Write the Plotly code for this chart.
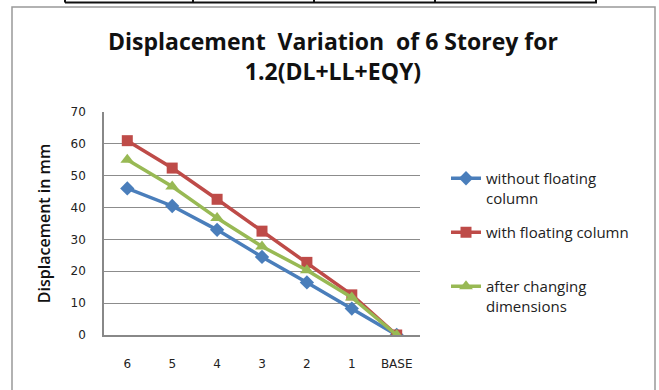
import plotly.graph_objects as go

# Storey levels along the x axis
storeys = ["6", "5", "4", "3", "2", "1", "BASE"]

# Displacement (mm) for each configuration
without_floating = [46.0, 40.5, 33.0, 24.5, 16.5, 8.3, 0.0]
with_floating = [61.0, 52.4, 42.6, 32.6, 22.8, 12.6, 0.0]
after_changing = [55.0, 46.6, 36.7, 27.8, 20.3, 11.8, 0.0]

series_names = [
    "without floating<br>column",
    "with floating column",
    "after changing<br>dimensions",
]
series_values = [without_floating, with_floating, after_changing]
series_colors = ["#4A7EBB", "#BE4B48", "#98B954"]
series_symbols = ["diamond", "square", "triangle-up"]
marker_sizes = [11, 11, 12]

W, H = 659, 390
L, R, T, B = 104, 239, 112, 55
pw, ph = W - L - R, H - T - B


def px(x):
    return (x - L) / pw


def py(y):
    return (H - B - y) / ph


fig = go.Figure()
legend_ids = ["legend", "legend2", "legend3"]
legend_tops = [162, 216, 270]
for name, vals, col, sym, ms, lg in zip(series_names, series_values, series_colors,
                                        series_symbols, marker_sizes, legend_ids):
    fig.add_trace(go.Scatter(
        x=storeys, y=vals, mode="lines+markers", name=name,
        line=dict(color=col, width=3.5),
        marker=dict(symbol=sym, size=ms, color=col),
        legend=lg,
    ))

legend_font = dict(family="Open Sans, sans-serif", size=15, color="#222")
legend_layout = {}
for lg, top in zip(legend_ids, legend_tops):
    legend_layout[lg] = dict(
        x=px(446), y=py(top), xanchor="left", yanchor="top",
        font=legend_font, bgcolor="rgba(0,0,0,0)", itemwidth=30,
        valign="top", tracegroupgap=0,
    )

tick_font = dict(family="DejaVu Sans, sans-serif", size=12, color="#222")

fig.update_layout(
    width=W, height=H,
    margin=dict(l=L, r=R, t=T, b=B),
    paper_bgcolor="white", plot_bgcolor="white",
    showlegend=True,
    **legend_layout,
    xaxis=dict(
        type="category", showgrid=False, showline=True, linecolor="#888",
        linewidth=1.5, ticks="", ticklabelstandoff=17, tickfont=tick_font,
    ),
    yaxis=dict(
        range=[0, 70], dtick=10, showgrid=True, gridcolor="#8c8c8c",
        gridwidth=1.3, showline=True, linecolor="#888", linewidth=1.5,
        zeroline=False, ticks="", ticklabelstandoff=14, tickfont=tick_font,
        title=dict(text="Displacement in mm", standoff=16,
                   font=dict(family="Open Sans, sans-serif", size=16,
                             color="#111", weight=600)),
    ),
    shapes=[
        # outer chart frame
        dict(type="rect", xref="paper", yref="paper",
             x0=px(12), x1=px(655), y0=py(400), y1=py(7),
             line=dict(color="#999", width=1.5), layer="below"),
        # table row above the chart
        dict(type="line", xref="paper", yref="paper",
             x0=px(65), x1=px(597), y0=py(2.5), y1=py(2.5),
             line=dict(color="#111", width=2)),
    ] + [
        dict(type="line", xref="paper", yref="paper",
             x0=px(xv), x1=px(xv), y0=py(-5), y1=py(2.5),
             line=dict(color="#111", width=2))
        for xv in [65, 193, 314, 435, 596]
    ],
    annotations=[
        dict(text="<b>Displacement  Variation  of 6 Storey for</b><br><b>1.2(DL+LL+EQY)</b>",
             xref="paper", yref="paper", x=px(333), y=py(56),
             xanchor="center", yanchor="middle", showarrow=False,
             font=dict(family="Open Sans, sans-serif", size=23, color="#111"),
             align="center"),
    ],
)

fig.write_html("out.html")
